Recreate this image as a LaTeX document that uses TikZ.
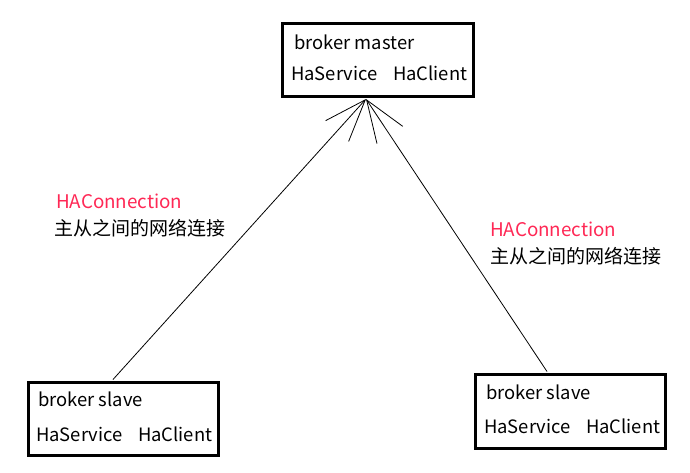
\documentclass[tikz,border=0pt]{standalone}
\usepackage{fontspec}
\setmainfont{Noto Sans CJK SC}
\usetikzlibrary{arrows.meta}
\definecolor{hared}{RGB}{255,40,85}
\begin{document}
\begin{tikzpicture}[x=1pt,y=-1pt,
  box/.style={draw, line width=3pt, minimum width=190pt, minimum height=73pt, inner sep=0pt},
  txt/.style={anchor=base west, inner sep=0pt, font=\fontsize{18.4}{20}\selectfont},
  cjk/.style={txt, font=\fontsize{19}{21}\selectfont},
  lbl/.style={txt, text=hared, font=\fontsize{18.8}{21}\selectfont},
  link/.style={line width=0.8pt, -{Straight Barb[length=42pt,width=31pt,line width=0.8pt]}}]
\useasboundingbox[fill=white] (0,0) rectangle (690,472);
% boxes
\node[box, minimum width=191pt] (master) at (378,60) {};
\node[box] (slaveL) at (123.5,419) {};
\node[box, minimum height=74pt] (slaveR) at (570.5,411.5) {};
% texts in master
\node[txt] (mt) at (294,49) {broker master};
\node[txt] (ms) at (291,80) {HaService};
\node[txt] (mc) at (393,80) {HaClient};
% texts in left slave
\node[txt] (lt) at (38,406.5) {broker slave};
\node[txt] (ls) at (36,441) {HaService};
\node[txt] (lc) at (138,441) {HaClient};
% texts in right slave
\node[txt] (rt) at (486,399.5) {broker slave};
\node[txt] (rs) at (484,433) {HaService};
\node[txt] (rc) at (586,433) {HaClient};
% labels
\node[lbl] (la) at (56,208.5) {HAConnection};
\node[cjk] (lb) at (54,235) {主从之间的网络连接};
\node[lbl] (ra) at (490,236.5) {HAConnection};
\node[cjk] (rb) at (490,263) {主从之间的网络连接};
% connectors
\coordinate (tip) at ([xshift=-12pt,yshift=-1pt]master.south);
\coordinate (fromL) at ([xshift=-10.5pt,yshift=1.5pt]slaveL.north);
\coordinate (fromR) at ([xshift=-23.5pt,yshift=1.5pt]slaveR.north);
\draw[link] (fromL) -- (tip);
\draw[link] (fromR) -- (tip);
\end{tikzpicture}
\end{document}
